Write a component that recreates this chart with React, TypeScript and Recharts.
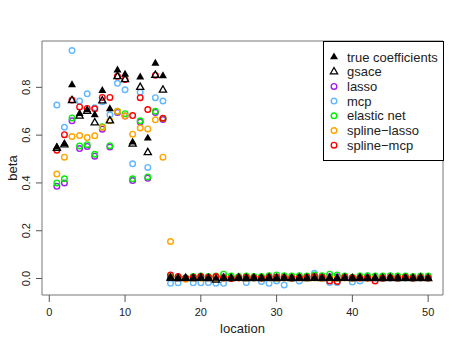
import { ScatterChart, Scatter, XAxis, YAxis, ReferenceArea, Label } from 'recharts'

const locations = [
  1, 2, 3, 4, 5, 6, 7, 8, 9, 10, 11, 12, 13, 14, 15, 16, 17, 18, 19, 20, 21, 22, 23, 24, 25,
  26, 27, 28, 29, 30, 31, 32, 33, 34, 35, 36, 37, 38, 39, 40, 41, 42, 43, 44, 45, 46, 47, 48, 49, 50,
]

const trueCoef = [
  0.55, 0.564, 0.81, 0.69, 0.705, 0.685, 0.786, 0.71, 0.872, 0.854, 0.57, 0.843, 0.587, 0.9, 0.848,
  0, 0, 0, 0, 0, 0, 0, 0, 0, 0, 0, 0, 0, 0, 0, 0, 0, 0, 0, 0, 0, 0, 0, 0, 0, 0, 0, 0, 0, 0, 0, 0, 0, 0, 0,
]
const gsace = [
  0.545, 0.56, 0.745, 0.68, 0.7, 0.652, 0.744, 0.66, 0.845, 0.833, 0.563, 0.8, 0.527, 0.851, 0.789,
  0.002, 0, 0.001, 0, 0.002, 0, -0.006, 0.001, 0, 0.002, 0, 0.001, 0, 0.002, 0, 0.001, 0, 0.002, 0, 0.001,
  0, 0.002, 0, 0.001, 0, 0.002, 0, 0.001, 0, 0.002, 0, 0.001, 0, 0.002, 0,
]
const lasso = [
  0.386, 0.4, 0.66, 0.544, 0.553, 0.512, 0.625, 0.55, 0.695, 0.68, 0.41, 0.655, 0.42, 0.695, 0.665,
  0.003, 0.002, 0, 0.003, 0.004, 0.003, 0.004, 0.006, 0.004, 0.003, 0.004, 0.003, 0.003, 0.005, 0.006,
  0.005, 0.004, 0.005, 0.004, 0.006, 0.005, 0.007, 0.006, 0.004, 0.002, 0.004, 0.005, 0.004, 0.004, 0.005,
  0.004, 0.004, 0.003, 0.004, 0.004,
]
const mcp = [
  0.726, 0.633, 0.954, 0.743, 0.773, 0.715, 0.74, 0.685, 0.817, 0.79, 0.48, 0.78, 0.465, 0.757, 0.743,
  -0.02, -0.018, 0, -0.018, -0.018, -0.017, -0.02, -0.02, 0.003, 0.005, -0.017, 0, -0.012, -0.02, -0.01,
  -0.027, 0, -0.01, 0.005, 0.022, 0.005, -0.017, -0.017, 0.005, -0.015, -0.01, 0.01, 0, 0, 0, 0, 0, 0, 0, 0.008,
]
const elasticNet = [
  0.4, 0.417, 0.672, 0.555, 0.56, 0.52, 0.635, 0.556, 0.7, 0.69, 0.417, 0.66, 0.425, 0.7, 0.67,
  0.008, 0.005, 0.002, 0.008, 0.01, 0.008, 0.01, 0.018, 0.01, 0.008, 0.01, 0.008, 0.008, 0.012, 0.015,
  0.012, 0.01, 0.012, 0.01, 0.015, 0.012, 0.018, 0.015, 0.01, 0.005, 0.01, 0.012, 0.01, 0.01, 0.012,
  0.01, 0.01, 0.008, 0.01, 0.01,
]
const splineLasso = [
  0.437, 0.508, 0.594, 0.598, 0.59, 0.597, 0.632, 0.66, 0.7, 0.68, 0.604, 0.63, 0.626, 0.664, 0.508,
  0.155, 0.002, -0.003, 0.002, 0.001, 0.002, 0.001, 0.002, 0.001, 0.002, 0.001, 0.002, 0.001, 0.002, 0.001,
  0.002, 0.001, 0.002, 0.001, 0.002, 0.001, 0.002, 0.001, 0.002, 0.001, 0.002, 0.001, 0.002, 0.001, 0.002,
  0.001, 0.002, 0.001, 0.002, 0.001,
]
const splineMcp = [
  0.537, 0.602, 0.747, 0.718, 0.712, 0.71, 0.758, 0.758, 0.847, 0.833, 0.682, 0.757, 0.707, 0.851, 0.671,
  0.015, 0.008, 0.002, 0.005, 0.008, 0.005, 0.008, 0.002, 0, 0.003, 0.005, 0.003, 0.002, 0.005, 0.005,
  0.003, 0.002, 0.003, 0.005, 0.008, 0.005, -0.01, -0.012, 0.005, 0.003, 0.002, 0.003, -0.01, 0.002, 0.003,
  0.002, 0.005, 0.002, 0.003, 0.002,
]

const xTicks = [0, 10, 20, 30, 40, 50]
const yTicks = [0, 0.2, 0.4, 0.6, 0.8]

const toRows = (vals: number[]) => locations.map((loc, i) => ({ location: loc, beta: vals[i] }))

const FONT = '"Liberation Sans", Arial, Helvetica, sans-serif'

const filledTri = (p: any) => (
  <polygon points={`${p.cx},${p.cy - 4.6} ${p.cx - 4},${p.cy + 2.3} ${p.cx + 4},${p.cy + 2.3}`} fill="#000" />
)
const openTri = (p: any) => (
  <polygon
    points={`${p.cx},${p.cy - 4.2} ${p.cx - 3.6},${p.cy + 2.1} ${p.cx + 3.6},${p.cy + 2.1}`}
    fill="none"
    stroke="#000"
    strokeWidth={1.3}
  />
)
const ring = (color: string) => (p: any) => (
  <circle cx={p.cx} cy={p.cy} r={2.8} fill="none" stroke={color} strokeWidth={1.4} />
)

const SERIES = [
  { name: 'lasso', vals: lasso, color: '#A020F0' },
  { name: 'mcp', vals: mcp, color: '#63B8FF' },
  { name: 'elastic net', vals: elasticNet, color: '#00EE00' },
  { name: 'spline\u2212lasso', vals: splineLasso, color: '#FFA500' },
  { name: 'spline\u2212mcp', vals: splineMcp, color: '#FF0000' },
]

function XTick({ x, y, payload }: any) {
  return (
    <text x={x} y={y + 12} textAnchor="middle" fontSize={11} fill="#222" fontFamily={FONT}>
      {payload.value}
    </text>
  )
}

function YTick({ x, y, payload }: any) {
  return (
    <text transform={`translate(${x - 4}, ${y}) rotate(-90)`} textAnchor="middle" fontSize={11} fill="#222" fontFamily={FONT}>
      {payload.value.toFixed(1)}
    </text>
  )
}

function LegendBox() {
  const rows: { label: string; kind: string; color: string }[] = [
    { label: 'true coefficients', kind: 'filled', color: '#000' },
    { label: 'gsace', kind: 'open', color: '#000' },
    ...SERIES.map(s => ({ label: s.name, kind: 'ring', color: s.color })),
  ]
  return (
    <svg width={121} height={120} style={{ position: 'absolute', left: 323, top: 41 }}>
      <rect x={0.5} y={0.5} width={120} height={119} fill="#fff" stroke="#000" />
      {rows.map((r, i) => {
        const cy = 16 + i * 14.7
        const cx = 11
        return (
          <g key={r.label}>
            {r.kind === 'filled' && filledTri({ cx, cy })}
            {r.kind === 'open' && openTri({ cx, cy })}
            {r.kind === 'ring' && ring(r.color)({ cx, cy })}
            <text x={24} y={cy + 4.5} fontSize={13} fill="#222" fontFamily={FONT}>
              {r.label}
            </text>
          </g>
        )
      })}
    </svg>
  )
}

export default function App() {
  return (
    <div style={{ position: 'absolute', left: 0, top: 0, width: 465, height: 346, background: '#fff' }}>
      <ScatterChart width={465} height={346} margin={{ top: 41, right: 22, bottom: 0, left: 0 }}>
        <XAxis
          type="number"
          dataKey="location"
          domain={[-0.96, 51.96]}
          ticks={xTicks}
          allowDataOverflow
          height={51}
          axisLine={false}
          tickLine={{ stroke: '#555' }}
          tickSize={7}
          tick={<XTick />}
        >
          <Label
            content={({ viewBox }: any) => (
              <text x={viewBox.x + viewBox.width / 2} y={viewBox.y + 38} textAnchor="middle" fontSize={13} fill="#222" fontFamily={FONT}>
                location
              </text>
            )}
          />
        </XAxis>
        <YAxis
          type="number"
          dataKey="beta"
          domain={[-0.069, 0.994]}
          ticks={yTicks}
          allowDataOverflow
          width={42}
          axisLine={false}
          tickLine={{ stroke: '#555' }}
          tickSize={6}
          tick={<YTick />}
        >
          <Label
            content={({ viewBox }: any) => (
              <text
                transform={`translate(17, ${viewBox.y + viewBox.height / 2}) rotate(-90)`}
                textAnchor="middle"
                fontSize={13}
                fill="#222"
                fontFamily={FONT}
              >
                beta
              </text>
            )}
          />
        </YAxis>
        <ReferenceArea x1={-0.96} x2={51.96} y1={-0.069} y2={0.994} fill="none" stroke="#777" strokeWidth={1} />
        {SERIES.map(s => (
          <Scatter key={s.name} name={s.name} data={toRows(s.vals)} shape={ring(s.color)} isAnimationActive={false} />
        ))}
        <Scatter name="gsace" data={toRows(gsace)} shape={openTri} isAnimationActive={false} />
        <Scatter name="true coefficients" data={toRows(trueCoef)} shape={filledTri} isAnimationActive={false} />
      </ScatterChart>
      <LegendBox />
    </div>
  )
}
